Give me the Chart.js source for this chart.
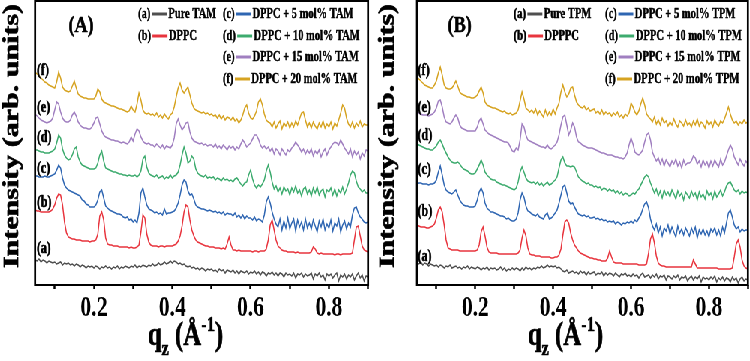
<!DOCTYPE html>
<html><head><meta charset="utf-8">
<script src="https://cdn.jsdelivr.net/npm/chart.js@4.4.1/dist/chart.umd.min.js"></script>
<style>
html,body{margin:0;padding:0;background:#fff;overflow:hidden;width:750px;height:361px;}
#wrap{width:1000px;height:361px;transform:scaleX(0.75);transform-origin:0 0;display:flex;}
#wrap canvas{display:block;}
</style></head>
<body>
<div id="wrap"><canvas id="cA" width="500" height="361"></canvas><canvas id="cB" width="500" height="361"></canvas></div>
<script>
// ---------- data ----------
const qGrid = [
0.050,0.055,0.060,0.065,0.070,0.075,0.080,0.085,0.090,0.095,
0.100,0.105,0.110,0.115,0.120,0.125,0.130,0.135,0.140,0.145,
0.150,0.155,0.160,0.165,0.170,0.175,0.180,0.185,0.190,0.195,
0.200,0.205,0.210,0.215,0.220,0.225,0.230,0.235,0.240,0.245,
0.250,0.255,0.260,0.265,0.270,0.275,0.280,0.285,0.290,0.295,
0.300,0.305,0.310,0.315,0.320,0.325,0.330,0.335,0.340,0.345,
0.350,0.355,0.360,0.365,0.370,0.375,0.380,0.385,0.390,0.395,
0.400,0.405,0.410,0.415,0.420,0.425,0.430,0.435,0.440,0.445,
0.450,0.455,0.460,0.465,0.470,0.475,0.480,0.485,0.490,0.495,
0.500,0.505,0.510,0.515,0.520,0.525,0.530,0.535,0.540,0.545,
0.550,0.555,0.560,0.565,0.570,0.575,0.580,0.585,0.590,0.595,
0.600,0.605,0.610,0.615,0.620,0.625,0.630,0.635,0.640,0.645,
0.650,0.655,0.660,0.665,0.670,0.675,0.680,0.685,0.690,0.695,
0.700,0.705,0.710,0.715,0.720,0.725,0.730,0.735,0.740,0.745,
0.750,0.755,0.760,0.765,0.770,0.775,0.780,0.785,0.790,0.795,
0.800,0.805,0.810,0.815,0.820,0.825,0.830,0.835,0.840,0.845,
0.850,0.855,0.860,0.865,0.870,0.875,0.880,0.885,0.890,0.895,
0.900];

const tickLabels = ['0.2','0.4','0.6','0.8'];
const traceLetters = ['(a)','(b)','(c)','(d)','(e)','(f)'];
const seriesColors = ['#4f4f4f','#e8353e','#2f66b2','#3dab6e','#a07fc0','#d6a321'];
const namesA = ['Pure TAM','DPPC','DPPC + 5 mol% TAM','DPPC + 10 mol% TAM','DPPC + 15 mol% TAM','DPPC + 20 mol% TAM'];
const namesB = ['Pure TPM','DPPPC','DPPC + 5 mol% TPM','DPPC + 10 mol% TPM','DPPC + 15 mol% TPM','DPPC + 20 mol% TPM'];

// Panel A (TAM) intensities, arb. units (stacked with offsets as in the figure)
const tamPure = [
25,24,26,23,25,24,22,24,23,22,
23,21,22,23,20,22,21,22,20,21,
19,21,20,18,20,19,17,19,18,19,
17,19,18,16,18,17,19,17,18,16,
18,17,19,16,18,17,19,18,17,19,
18,20,17,19,18,20,19,18,20,19,
21,19,20,22,20,21,23,21,22,24,
22,24,23,21,22,20,21,19,18,19,
17,18,16,17,15,17,16,14,16,15,
16,14,15,13,16,14,15,12,15,14,
13,15,12,14,11,14,13,12,14,11,
13,12,14,11,13,10,13,12,9,12,
11,13,10,12,9,12,11,8,12,10,
11,9,12,7,11,10,12,8,11,9,
10,12,6,11,9,12,8,10,5,11,
9,11,7,10,12,4,10,8,11,6,
10,8,11,5,9,12,7,10,4,9,
8];
const tamDPPC = [
75,74,74,73,73,73,73,73,74,76,
80,87,91,90,80,63,52,48,47,46,
46,45,45,45,44,44,44,44,43,44,
44,45,51,69,73,65,47,41,40,40,
39,39,39,38,38,38,38,38,37,38,
37,37,38,40,53,70,67,51,43,40,
39,39,39,38,39,39,38,39,39,39,
39,40,41,44,49,59,73,80,78,65,
55,49,45,43,42,41,40,39,39,38,
38,38,37,37,37,36,37,36,41,48,
40,35,35,34,35,34,34,34,34,34,
34,33,34,34,33,34,34,34,36,45,
60,65,55,45,39,37,35,34,34,33,
33,33,33,32,33,32,32,32,32,32,
32,33,38,36,32,31,32,31,31,31,
31,31,31,30,31,31,30,31,31,31,
31,31,32,45,58,59,49,39,35,34,
33];
const tam5 = [
109,109,108,108,108,109,108,108,109,110,
111,115,120,117,107,100,97,95,94,93,
92,91,90,89,85,84,81,80,78,78,
78,80,85,93,95,87,79,77,75,74,
73,72,71,71,70,68,67,68,65,66,
63,65,62,72,92,97,88,80,76,75,
74,72,73,71,72,70,76,71,72,72,
73,74,77,82,90,100,105,103,94,90,
91,86,80,78,77,76,76,75,74,75,
74,73,74,72,73,71,73,70,72,71,
71,69,72,68,70,67,70,66,69,67,
67,65,68,64,66,65,63,70,83,88,
82,73,66,61,58,66,55,64,57,67,
56,62,66,54,65,58,63,55,66,57,
62,56,65,59,53,64,58,66,55,61,
57,65,54,62,59,66,53,60,64,56,
62,58,70,77,78,72,68,66,63,62,
63];
const tam10 = [
135,135,134,133,133,132,132,132,133,134,
136,142,150,147,136,130,127,125,126,130,
136,138,128,123,120,119,118,117,116,116,
116,117,122,130,134,124,117,116,115,114,
113,113,112,111,111,110,110,109,110,109,
109,110,108,110,114,126,129,118,112,110,
109,108,110,107,108,109,106,108,107,110,
107,109,110,113,120,130,138,132,122,124,
129,126,116,112,110,109,108,110,107,108,
107,108,105,107,106,104,107,105,106,104,
105,103,106,107,104,101,99,102,103,110,
115,106,100,97,100,98,101,105,114,120,
113,103,96,99,93,97,91,98,94,96,
90,97,93,99,92,95,89,96,98,91,
95,89,97,92,98,90,94,96,88,95,
93,97,90,96,89,95,92,98,91,96,
102,110,114,112,104,98,96,93,95,92,
92];
const tam15 = [
171,169,167,165,164,163,162,163,164,167,
175,183,181,173,167,164,163,163,165,170,
173,169,163,160,158,157,157,156,156,158,
162,167,168,161,154,150,148,147,146,145,
145,144,144,143,142,143,142,141,143,148,
144,151,156,154,148,144,142,141,142,140,
140,138,141,139,137,140,136,139,138,137,
140,147,161,166,160,155,158,162,163,153,
147,144,143,142,141,142,140,141,139,140,
140,138,141,137,139,136,140,138,135,139,
137,139,135,138,136,141,145,142,138,140,
142,146,150,150,146,140,137,139,136,138,
134,137,131,136,134,130,136,133,130,135,
133,137,139,143,140,137,133,136,131,135,
132,136,129,134,131,135,128,133,136,130,
135,138,141,143,142,140,145,141,137,134,
131,136,128,134,130,133,126,132,129,135,
134];
const tam20 = [
213,211,209,207,205,203,202,200,199,198,
197,203,213,207,198,195,194,193,194,199,
204,197,191,189,188,187,187,186,186,186,
186,189,196,193,186,183,182,181,180,179,
179,178,177,176,176,175,174,173,174,179,
175,173,181,192,185,175,172,171,172,170,
171,169,172,168,170,167,171,168,166,170,
172,178,188,197,202,195,192,195,198,190,
182,177,175,174,173,172,173,171,172,170,
171,169,170,167,170,166,169,165,168,167,
165,168,164,166,162,165,170,177,180,172,
167,166,169,174,183,186,180,171,165,163,
162,158,163,157,161,164,156,162,159,163,
157,162,158,164,160,166,172,173,165,158,
162,157,163,159,156,162,158,164,157,161,
158,163,156,162,159,165,172,180,177,167,
161,158,163,157,162,159,164,158,161,160,
160];

// Panel B (TPM)
const tpmPure = [
22,21,23,20,22,21,19,21,20,19,
20,18,20,19,17,19,18,20,17,18,
19,17,18,16,18,17,19,16,18,17,
16,18,17,15,17,16,18,15,17,16,
17,15,16,18,15,17,14,16,15,17,
15,17,16,14,17,15,18,16,17,15,
17,16,18,17,19,17,18,20,18,19,
18,19,17,18,16,14,13,15,12,13,
14,12,13,11,14,12,13,10,13,11,
12,13,10,12,11,13,9,12,10,12,
11,9,12,10,8,11,10,12,9,10,
8,11,9,10,7,10,12,8,9,10,
7,10,8,11,6,9,8,10,5,9,
8,6,9,7,10,5,8,7,9,4,
7,9,5,8,6,9,3,8,6,7,
5,8,6,9,3,7,5,8,4,7,
6,3,8,5,7,2,6,8,4,6,
5];
const tpmDPPPC = [
60,59,58,58,58,57,57,58,59,61,
67,75,78,73,60,45,37,36,35,35,
35,35,34,34,34,34,34,34,34,34,
34,35,40,53,58,49,38,33,32,32,
32,32,31,31,31,31,31,31,31,31,
31,31,32,35,47,55,49,37,31,30,
30,29,29,29,28,28,28,28,28,27,
27,28,28,30,36,50,63,65,62,52,
45,40,37,34,32,31,30,29,28,27,
27,26,26,25,25,24,24,24,27,34,
28,23,22,22,22,22,21,21,21,21,
21,21,21,21,20,20,20,20,21,32,
46,51,42,29,22,20,19,19,18,18,
18,18,18,18,18,18,18,18,18,18,
18,18,25,21,17,17,17,17,17,17,
17,17,17,17,17,16,16,16,16,16,
16,16,17,28,41,45,38,25,19,17,
16];
const tpm5 = [
101,102,102,101,101,101,100,101,101,102,
105,113,119,110,100,95,93,92,91,93,
95,90,85,82,80,79,79,78,78,78,
79,85,93,97,92,82,77,75,73,73,
72,71,70,69,69,68,66,67,65,64,
64,66,72,85,92,88,79,74,73,71,
70,69,71,68,67,66,70,72,66,67,
69,72,75,82,90,98,100,92,84,81,
82,78,74,71,70,69,70,68,69,67,
67,68,66,67,65,66,64,65,63,64,
63,64,61,63,62,60,62,61,63,62,
64,62,65,63,67,70,76,81,83,77,
66,59,55,61,52,58,49,57,54,60,
51,58,53,48,59,52,56,50,57,53,
49,57,52,58,47,55,51,56,50,54,
48,56,53,57,50,55,49,58,52,62,
72,75,68,60,56,58,53,56,54,55,
55];
const tpm10 = [
142,140,139,138,137,136,136,135,135,137,
139,143,145,141,136,132,128,125,123,122,
122,123,121,118,116,115,114,112,111,111,
112,116,120,125,120,113,110,108,106,105,
105,103,102,101,100,100,99,98,97,96,
95,97,103,113,118,113,107,104,103,102,
103,101,103,100,102,99,101,103,100,101,
103,105,108,117,125,128,122,119,119,118,
119,118,113,108,106,104,103,101,102,100,
100,98,99,97,98,95,97,96,94,96,
94,95,92,94,91,93,90,92,91,89,
90,92,91,94,96,100,104,108,110,108,
102,97,92,96,89,94,87,95,90,93,
88,95,91,86,94,89,92,85,93,90,
87,94,89,92,85,93,88,91,86,94,
89,92,86,94,88,91,95,89,93,99,
102,103,99,95,93,95,91,94,92,93,
92];
const tpm15 = [
173,172,171,170,170,170,169,170,171,173,
177,184,185,178,168,163,162,161,163,167,
170,167,160,157,156,155,154,154,154,154,
154,158,164,167,161,155,153,151,150,149,
148,147,146,145,144,143,143,142,138,134,
133,137,135,145,161,158,150,145,144,143,
142,141,140,139,138,138,137,140,137,136,
138,140,143,150,160,168,170,160,150,155,
162,158,148,143,142,140,139,138,137,137,
137,136,135,134,133,132,132,131,130,130,
130,129,128,128,127,127,126,128,132,140,
147,141,133,131,130,132,135,143,150,152,
145,133,128,124,127,121,126,119,125,122,
118,124,121,126,119,123,117,125,120,122,
122,124,129,127,121,124,118,125,120,123,
117,124,119,125,121,118,126,120,123,129,
135,140,136,128,124,120,126,122,119,124,
121];
const tpm20 = [
208,206,204,202,200,199,198,197,197,200,
204,212,218,210,200,197,196,196,197,200,
204,199,193,191,190,189,188,188,187,187,
188,190,194,198,192,183,180,179,178,177,
177,176,175,174,173,174,172,171,172,170,
171,172,175,184,193,186,177,175,173,175,
172,176,170,174,171,168,175,169,173,170,
176,171,177,182,193,200,193,188,191,197,
198,190,183,180,178,177,179,175,177,174,
175,176,172,174,171,175,170,173,171,172,
169,172,170,173,168,170,167,171,169,172,
182,178,173,170,174,181,187,180,171,168,
166,163,168,161,165,160,167,162,164,159,
163,160,166,161,158,164,162,159,165,160,
162,158,164,160,166,159,163,161,157,164,
160,163,158,165,161,159,164,162,166,172,
178,171,165,162,164,160,163,161,165,162,
163];

// ---------- drawing ----------
const SERIF = '"Liberation Serif","Times New Roman",serif';

function boldText(ctx, txt, x, y, sw) {
  ctx.lineWidth = sw;
  ctx.strokeStyle = '#000';
  ctx.lineJoin = 'round';
  ctx.strokeText(txt, x, y);
  ctx.fillText(txt, x, y);
}

const decoPlugin = {
  id: 'deco',
  afterDraw(chart, args, o) {
    const ctx = chart.ctx, ca = chart.chartArea;
    ctx.save();
    // frame
    ctx.strokeStyle = '#000';
    ctx.lineWidth = 2;
    ctx.beginPath();
    ctx.moveTo(ca.left, ca.top); ctx.lineTo(ca.right, ca.top);
    ctx.moveTo(ca.left, ca.bottom); ctx.lineTo(ca.right, ca.bottom);
    ctx.stroke();
    ctx.lineWidth = 2.7;
    ctx.beginPath();
    ctx.moveTo(ca.left, ca.top - 1); ctx.lineTo(ca.left, ca.bottom + 1);
    ctx.moveTo(ca.right, ca.top - 1); ctx.lineTo(ca.right, ca.bottom + 1);
    ctx.stroke();

    ctx.fillStyle = '#000';
    // panel label
    ctx.font = 'bold 24px ' + SERIF;
    ctx.textAlign = 'center'; ctx.textBaseline = 'middle';
    boldText(ctx, o.panel, o.panelX, 26, 0.6);

    // trace letters
    ctx.font = 'bold 16px ' + SERIF;
    ctx.textAlign = 'left';
    traceLetters.forEach((t, i) => boldText(ctx, t, o.letterX, o.letterY[i], 0.5));

    // legend
    ctx.font = 'bold 14px ' + SERIF;
    const slots = [[o.col1, 0], [o.col1, 1], [o.col2, 0], [o.col2, 1], [o.col2, 2], [o.col2, 3]];
    const rows = [14, 36, 57, 79];
    o.names.forEach((nm, i) => {
      const x = slots[i][0], y = rows[slots[i][1]];
      ctx.fillStyle = '#000';
      boldText(ctx, traceLetters[i], x, y, 0.45);
      const w = ctx.measureText(traceLetters[i]).width;
      ctx.strokeStyle = seriesColors[i];
      ctx.lineWidth = 3;
      ctx.beginPath(); ctx.moveTo(x + w + 2, y); ctx.lineTo(x + w + 22, y); ctx.stroke();
      boldText(ctx, nm, x + w + 24, y, 0.45);
    });

    // y title
    ctx.save();
    ctx.translate(o.yTitleX, 136);
    ctx.rotate(-Math.PI / 2);
    ctx.font = 'bold 30px ' + SERIF;
    ctx.textAlign = 'center'; ctx.textBaseline = 'middle';
    boldText(ctx, 'Intensity (arb. units)', 0, 0, 0.8);
    ctx.restore();

    // x title  q_z (Å^-1)
    ctx.textAlign = 'left'; ctx.textBaseline = 'alphabetic';
    let x = o.xTitleX; const base = 345;
    const big = 'bold 33px ' + SERIF, small = 'bold 22px ' + SERIF;
    ctx.font = big; boldText(ctx, 'q', x, base, 0.7); x += ctx.measureText('q').width;
    ctx.font = small; boldText(ctx, 'z', x, base + 10, 0.5); x += ctx.measureText('z').width;
    ctx.font = big; boldText(ctx, ' (Å', x, base, 0.7); x += ctx.measureText(' (Å').width;
    ctx.font = small; boldText(ctx, '-1', x, base - 14, 0.5); x += ctx.measureText('-1').width;
    ctx.font = big; boldText(ctx, ')', x, base, 0.7);
    ctx.restore();
  }
};

function series(vals) { return qGrid.map((q, i) => ({ x: q, y: vals[i] })); }

function makeChart(id, sets, deco) {
  const datasets = sets.map((v, i) => ({
    label: deco.names[i], data: series(v), borderColor: seriesColors[i],
    borderWidth: 1.5, pointRadius: 0, tension: 0, fill: false
  }));
  return new Chart(document.getElementById(id), {
    type: 'line',
    data: { datasets },
    options: {
      responsive: false, animation: false, devicePixelRatio: 1,
      layout: { padding: { left: deco.padL, right: deco.padR, top: 1, bottom: 0 } },
      scales: {
        x: {
          type: 'linear', min: 0.05, max: 0.9,
          afterFit: s => { s.height = 76; },
          border: { display: false },
          grid: { display: true, drawOnChartArea: false, drawTicks: true, tickLength: 4, tickColor: '#000', tickWidth: 2.5 },
          ticks: {
            stepSize: 0.1, includeBounds: false, autoSkip: false, maxRotation: 0, minRotation: 0, padding: 2,
            color: '#000', font: { family: SERIF, size: 29, weight: 'bold' },
            callback: v => tickLabels.find(t => Math.abs(parseFloat(t) - v) < 1e-6) || ''
          }
        },
        y: { display: false, min: 0, max: 284 }
      },
      plugins: { legend: { display: false }, tooltip: { enabled: false }, deco }
    },
    plugins: [decoPlugin]
  });
}

makeChart('cA', [tamPure, tamDPPC, tam5, tam10, tam15, tam20], {
  names: namesA, panel: '(A)', panelX: 108, letterX: 49,
  letterY: [249, 203, 169, 138, 108, 71], col1: 184, col2: 297,
  yTitleX: 16, xTitleX: 197, padL: 46.7, padR: 9.3
});
makeChart('cB', [tpmPure, tpmDPPPC, tpm5, tpm10, tpm15, tpm20], {
  names: namesB, panel: '(B)', panelX: 113, letterX: 57,
  letterY: [257, 212, 170, 136, 108, 71], col1: 185, col2: 307,
  yTitleX: 17, xTitleX: 204, padL: 56, padR: 2.7
});
</script>
</body></html>
